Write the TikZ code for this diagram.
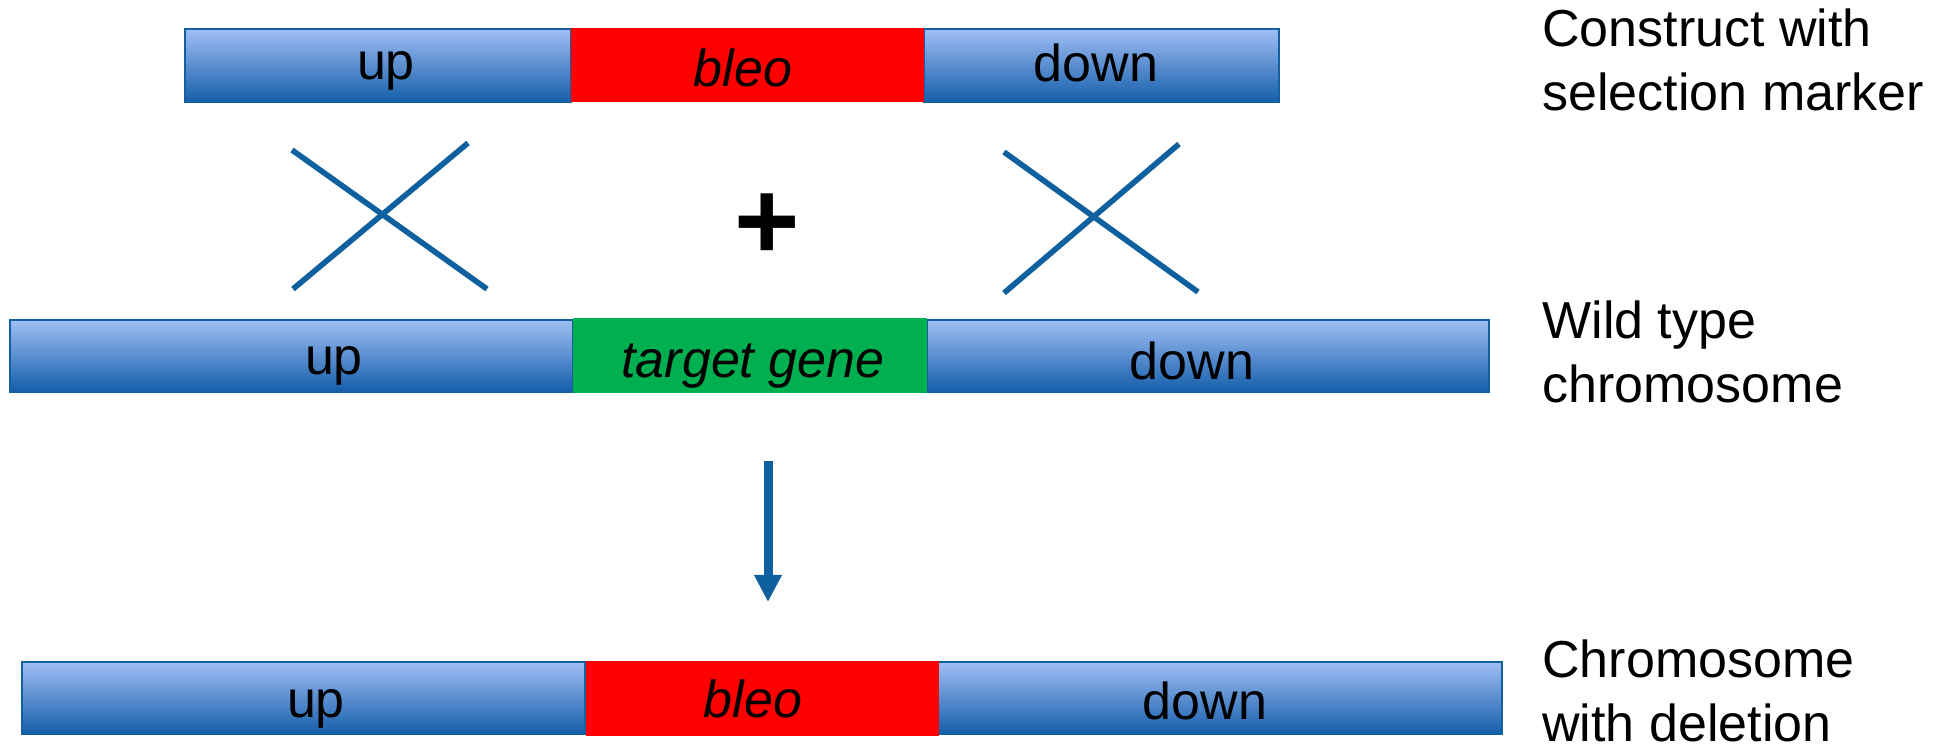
\documentclass[tikz,border=0pt]{standalone}
\usepackage{fontspec}
\setmainfont{Liberation Sans}
\usetikzlibrary{arrows.meta}

\definecolor{barTop}{RGB}{160,190,245}
\definecolor{barBot}{RGB}{20,94,170}
\definecolor{barEdge}{RGB}{18,96,162}
\definecolor{lineBlue}{RGB}{15,96,158}
\definecolor{markerRed}{RGB}{255,0,0}
\definecolor{geneGreen}{RGB}{0,176,80}

\begin{document}
\begin{tikzpicture}[x=0.5pt,y=-0.5pt,
  flank/.style={rectangle,draw=barEdge,line width=1pt,top color=barTop,bottom color=barBot,inner sep=0},
  marker/.style={rectangle,fill=markerRed,inner sep=0},
  genebox/.style={rectangle,fill=geneGreen,inner sep=0},
  lbl/.style={font=\fontsize{26}{32}\selectfont,anchor=base,inner sep=0},
  side/.style={font=\fontsize{26}{32}\selectfont,anchor=base west,align=left,inner sep=0},
  cross/.style={draw=lineBlue,line width=2.8pt},
  flow/.style={draw=lineBlue,line width=4.5pt,-{Triangle[width=13pt,length=13.5pt]}},
]
\useasboundingbox (0,0) rectangle (1950,748);

% construct with selection marker
\node[flank,minimum width=193pt,minimum height=36.5pt] (up1) at (378,65.5) {};
\node[flank,minimum width=177.5pt,minimum height=36.5pt] (down1) at (1101.5,65.5) {};
\node[marker,minimum width=176.5pt,minimum height=37pt] (bleo1) at (747.5,65) {};
\node[lbl] (up1t) at (386,80) {up};
\node[lbl] (bleo1t) at (743,87) {\itshape bleo};
\node[lbl] (down1t) at (1096,82) {down};

% wild type chromosome
\node[flank,minimum width=281.5pt,minimum height=36pt] (up2) at (291.5,356) {};
\node[flank,minimum width=281pt,minimum height=36pt] (down2) at (1208,356) {};
\node[genebox,minimum width=177pt,minimum height=37.5pt] (gene2) at (750,355.5) {};
\node[lbl] (up2t) at (334,375) {up};
\node[lbl] (gene2t) at (753,378) {\itshape target gene};
\node[lbl] (down2t) at (1192,380) {down};

% chromosome with deletion
\node[flank,minimum width=281.5pt,minimum height=36pt] (up3) at (303.5,698) {};
\node[flank,minimum width=282pt,minimum height=36pt] (down3) at (1220,698) {};
\node[marker,minimum width=176.5pt,minimum height=37.5pt] (bleo3) at (762.5,698.5) {};
\node[lbl] (up3t) at (316,717) {up};
\node[lbl] (bleo3t) at (753,717) {\itshape bleo};
\node[lbl] (down3t) at (1205,719) {down};

% crossover marks
\coordinate (xa1) at (292,150); \coordinate (xa2) at (487,289);
\coordinate (xa3) at (468,143); \coordinate (xa4) at (293,289);
\coordinate (xb1) at (1004,152); \coordinate (xb2) at (1198,292);
\coordinate (xb3) at (1179,144); \coordinate (xb4) at (1004,293);
\draw[cross] (xa1) -- (xa2);
\draw[cross] (xa3) -- (xa4);
\draw[cross] (xb1) -- (xb2);
\draw[cross] (xb3) -- (xb4);

\node[inner sep=0,font=\fontsize{56}{60}\selectfont\bfseries] (plus) at (767,227) {+};

% result arrow
\coordinate (arrS) at (768,461);
\coordinate (arrE) at (768,602);
\draw[flow] (arrS) -- (arrE);

% side labels (anchored on the baseline of their last line)
\node[side] (lab1) at (1542,111) {Construct with\\selection marker};
\node[side] (lab2) at (1542,403) {Wild type\\chromosome};
\node[side] (lab3) at (1542,741) {Chromosome\\with deletion};
\end{tikzpicture}
\end{document}
